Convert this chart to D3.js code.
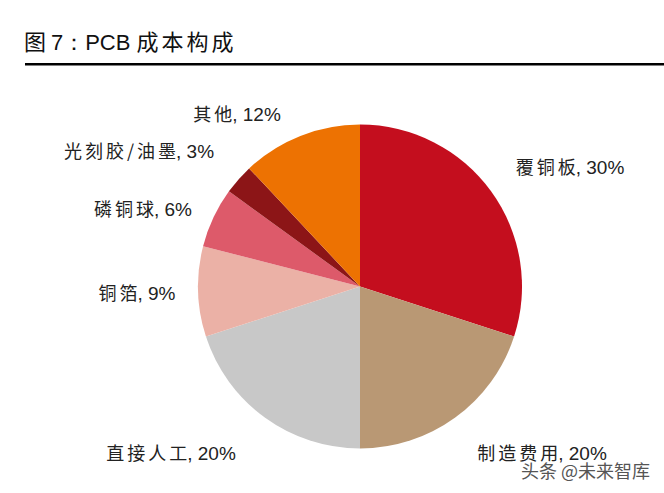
<!DOCTYPE html>
<html><head><meta charset="utf-8">
<script src="https://cdn.jsdelivr.net/npm/d3@7"></script>
<style>html,body{margin:0;padding:0;background:#fff;}svg{display:block;}</style>
</head><body>
<svg id="c" width="664" height="493"></svg>
<script>
const categories = ["覆铜板", "制造费用", "直接人工", "铜箔", "磷铜球", "光刻胶/油墨", "其他"];
const values = [30, 20, 20, 9, 6, 3, 12];
const colors = ["#C40E1E", "#B99874", "#C8C8C8", "#EBB1A6", "#DD5A6A", "#8C1517", "#ED7202"];
// label anchor positions (text-anchor middle x, baseline y)
const labelPos = [[570, 174], [542, 460], [171, 460], [137, 300], [143, 216], [139, 158], [237, 121]];

const svg = d3.select("#c");
const cjk = "'Noto Sans CJK SC', 'Noto Sans', sans-serif";
const lat = "'Liberation Sans', Arial, sans-serif";

// title
const t = svg.append("text").attr("x", 24).attr("y", 50).attr("font-size", 22).attr("fill", "#111");
t.append("tspan").attr("font-family", cjk).text("图 ");
t.append("tspan").attr("font-family", lat).text("7：PCB ");
t.append("tspan").attr("font-family", cjk).attr("letter-spacing", 3).text("成本构成");
svg.append("rect").attr("x", 25).attr("y", 63).attr("width", 639).attr("height", 2.5).attr("fill", "#000");

const cx = 360, cy = 286.5, r = 162;
const pie = d3.pie().sort(null).value(d => d)(values);
const arc = d3.arc().innerRadius(0).outerRadius(r);
const g = svg.append("g").attr("transform", `translate(${cx},${cy})`);
g.selectAll("path").data(pie).join("path").attr("d", arc).attr("fill", (d, i) => colors[i]);

categories.forEach((c, i) => {
  const tx = svg.append("text").attr("x", labelPos[i][0]).attr("y", labelPos[i][1])
    .attr("text-anchor", "middle").attr("font-size", 18).attr("fill", "#222");
  tx.append("tspan").attr("font-family", cjk).attr("letter-spacing", 3).text(c);
  tx.append("tspan").attr("font-family", lat).attr("font-size", 19).attr("dx", -3).text(", " + values[i] + "%");
});

// watermark
svg.append("text").attr("x", 521).attr("y", 478).attr("font-family", cjk).attr("font-size", 18)
  .attr("fill", "#555").attr("stroke", "#fff").attr("stroke-width", 3).attr("paint-order", "stroke")
  .text("头条 @未来智库");
</script>
</body></html>
